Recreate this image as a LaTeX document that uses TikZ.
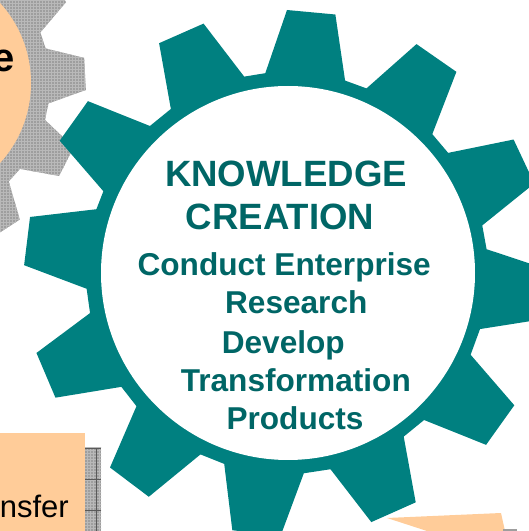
\documentclass[tikz,border=0pt]{standalone}
\usepackage{fontspec}
\setmainfont{Liberation Sans}
\usetikzlibrary{patterns}
\definecolor{gearteal}{RGB}{0,128,128}
\definecolor{textteal}{RGB}{0,102,102}
\definecolor{peach}{RGB}{255,204,153}
\definecolor{geargray}{RGB}{158,158,158}
\definecolor{gridlight}{RGB}{185,185,185}

\begin{document}
\begin{tikzpicture}[x=1pt,y=1pt,
	graytex/.style={preaction={fill=geargray},pattern=grid,pattern color=gridlight},
	bigtext/.style={text=textteal,font=\bfseries\fontsize{36.6}{40}\selectfont,anchor=base},
	smalltext/.style={text=textteal,font=\bfseries\fontsize{31.6}{36}\selectfont,anchor=base}]
			\tikzstyle{every node}+=[inner sep=0pt]
			\useasboundingbox (0,0) rectangle (529,531);
			\clip (0,0) rectangle (529,531);
			% gray gear, top left
			\begin{scope}[shift={(-88,448)}]
			\fill [graytex] (-8.5:138) -- (-2.3:174) -- (8.3:174) -- (14.5:138) --
				(21.5:138) -- (27.7:174) -- (38.3:174) -- (44.5:138) --
				(51.5:138) -- (57.7:174) -- (68.3:174) -- (74.5:138) --
				(81.5:138) -- (87.7:174) -- (98.3:174) -- (104.5:138) --
				(111.5:138) -- (117.7:174) -- (128.3:174) -- (134.5:138) --
				(141.5:138) -- (147.7:174) -- (158.3:174) -- (164.5:138) --
				(171.5:138) -- (177.7:174) -- (188.3:174) -- (194.5:138) --
				(201.5:138) -- (207.7:174) -- (218.3:174) -- (224.5:138) --
				(231.5:138) -- (237.7:174) -- (248.3:174) -- (254.5:138) --
				(261.5:138) -- (267.7:174) -- (278.3:174) -- (284.5:138) --
				(291.5:138) -- (297.7:174) -- (308.3:174) -- (314.5:138) --
				(321.5:138) -- (327.7:174) -- (338.3:174) -- (344.5:138) -- cycle;
			\fill [peach] (0,0) circle (119);
			\end{scope}
			\node (share) [anchor=base east,font=\bfseries\fontsize{40}{44}\selectfont] at (15,459) {e};
			% bottom left box and table
			\fill [peach] (0,0) rectangle (85,98);
			\fill [graytex] (85,0) rectangle (101,83);
			\draw [black!65] (85,83) -- (101,83);
			\draw [black!65] (85,52) -- (101,52);
			\draw [black!65] (85,21) -- (101,21);
			\draw [black!65] (96,0) -- (96,83);
			\node (transfer) [anchor=base east,font=\fontsize{31}{34}\selectfont] at (69,13) {nsfer};
			% bottom right box
			\fill [peach] (387,13) -- (501,18) -- (505,0) -- (427,0) -- cycle;
			\fill [geargray] (503,0) rectangle (517,2);
			% knowledge creation gear
			\begin{scope}[shift={(287,258)}]
			\fill [gearteal] (73.2:201) -- (79.4:263) -- (90.0:263) -- (96.2:201) --
				(102.3:201) -- (108.5:263) -- (119.1:263) -- (125.3:201) --
				(133.0:201) -- (139.2:263) -- (149.8:263) -- (156.0:201) --
				(161.5:201) -- (167.7:263) -- (178.3:263) -- (184.5:201) --
				(191.5:201) -- (197.7:263) -- (208.3:263) -- (214.5:201) --
				(221.5:201) -- (227.7:263) -- (238.3:263) -- (244.5:201) --
				(251.8:201) -- (258.0:263) -- (268.6:263) -- (274.8:201) --
				(282.5:201) -- (288.7:263) -- (299.3:263) -- (305.5:201) --
				(313.0:201) -- (319.2:263) -- (329.8:263) -- (336.0:201) --
				(343.8:201) -- (350.0:263) -- (360.6:263) -- (366.8:201) --
				(373.7:201) -- (379.9:263) -- (390.5:263) -- (396.7:201) --
				(403.7:201) -- (409.9:263) -- (420.5:263) -- (426.7:201) -- cycle;
			\end{scope}
			\fill [white] (288,258) circle (187);
			\node (know) [bigtext] at (286,344.3) {KNOWLEDGE};
			\node (creation) [bigtext] at (280,301) {CREATION};
			\node (conduct) [smalltext] at (284.2,255.5) {Conduct Enterprise};
			\node (research) [smalltext] at (296.3,217.3) {Research};
			\node (develop) [smalltext] at (283.3,177.7) {Develop};
			\node (transform) [smalltext] at (295.8,139.3) {Transformation};
			\node (products) [smalltext] at (295,101.7) {Products};
	\end{tikzpicture}
\end{document}
